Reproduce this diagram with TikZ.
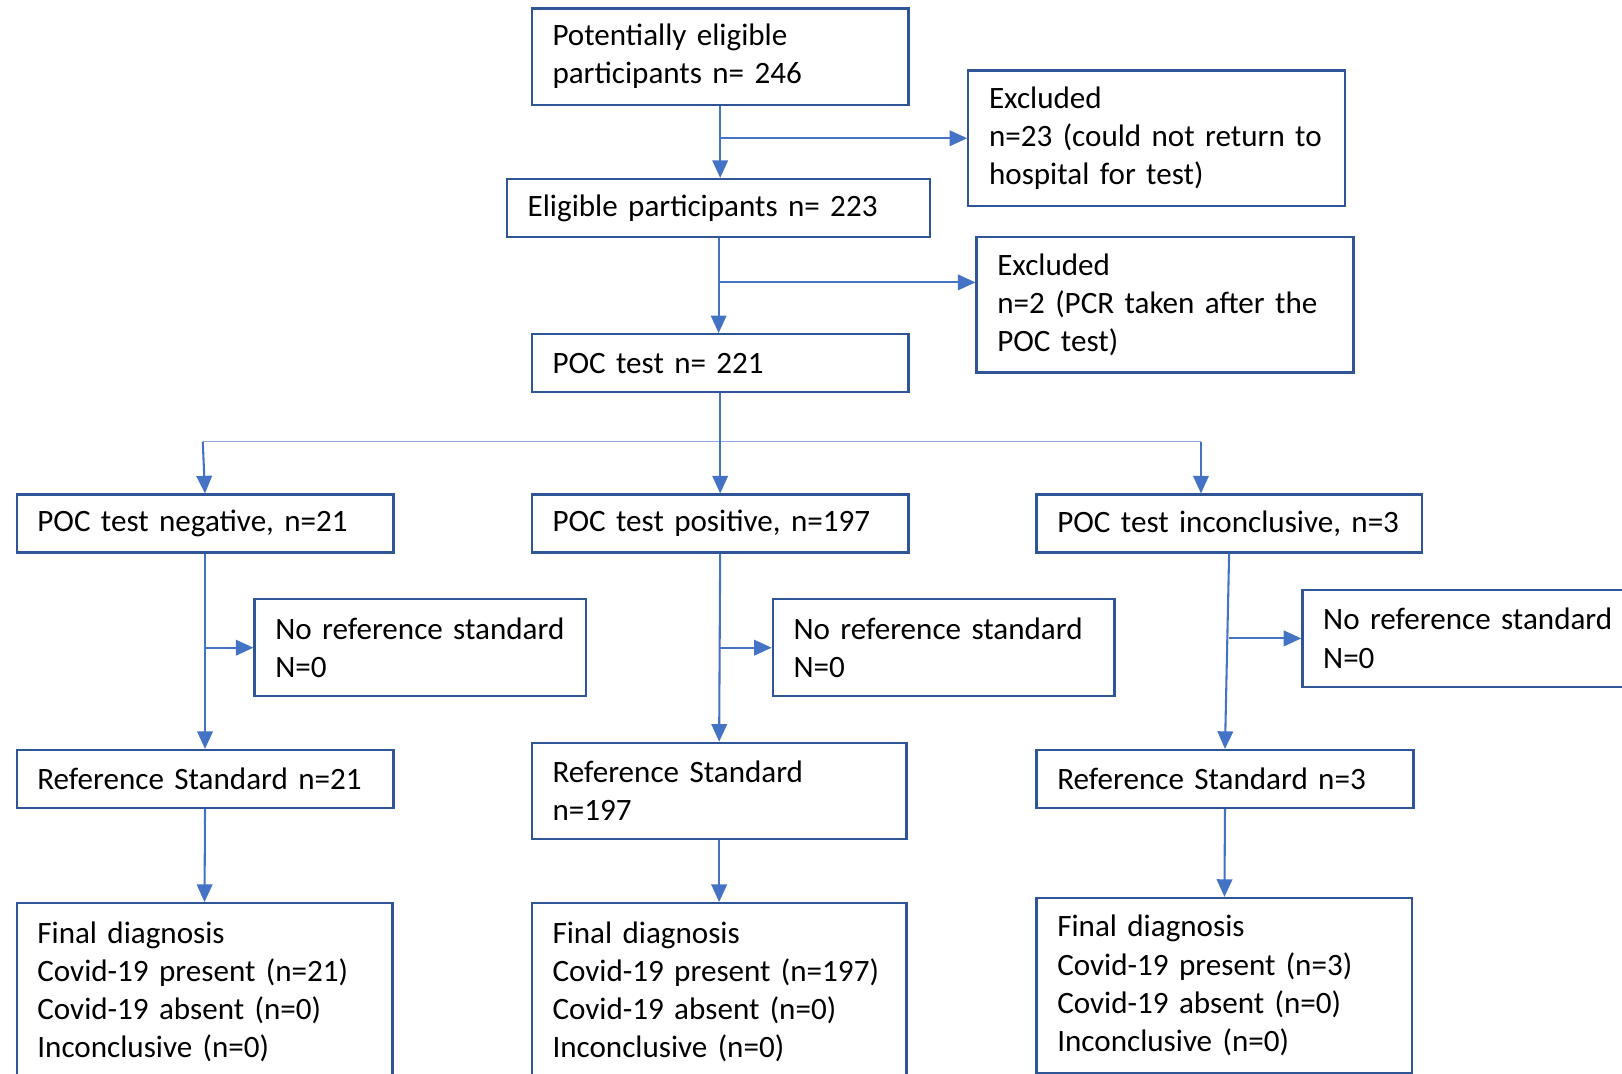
\documentclass[tikz,border=0pt]{standalone}
\usepackage{fontspec}
\setmainfont{Carlito}
\usetikzlibrary{arrows.meta}
\definecolor{boxblue}{HTML}{2F5597}
\definecolor{flowblue}{HTML}{4472C4}
\definecolor{splitblue}{HTML}{8FAADC}
\tikzset{>={Triangle[length=1.7mm,width=1.5mm]}}
\hyphenpenalty=10000
\exhyphenpenalty=10000

\begin{document}
\begin{tikzpicture}[x=0.01cm,y=-0.01cm,
  stage/.style 2 args={draw=boxblue, line width=0.22mm, anchor=north west, align=left,
    inner xsep=2mm, inner ysep=0.5mm, text width=#1, minimum height=#2,
    font=\fontsize{8.55}{10.5}\selectfont},
  flow/.style={->, draw=flowblue, line width=0.2mm},
  split/.style={draw=splitblue, line width=0.15mm}]

\useasboundingbox (0,0) rectangle (1568,1038);
\clip (0,0) rectangle (1568,1038);

% enrolment
\node[stage={32.4mm}{9.3mm}] (pot) at (513,7) {Potentially eligible\\participants n= 246};
\node[stage={32.4mm}{13.1mm}] (excl1) at (935,67) {Excluded\\n=23~(could~not~return~to\\hospital for test)};
\node[stage={36.9mm}{5.6mm}] (elig) at (489,172) {Eligible participants n= 223};
\node[stage={32.4mm}{13.1mm}] (excl2) at (943,228) {Excluded\\n=2~(PCR~taken~after~the\\POC test)};
\node[stage={32.4mm}{5.6mm}] (poc) at (513,322) {POC test n= 221};

% POC results
\node[stage={32.4mm}{5.6mm}] (neg) at (15,477) {POC~test~negative,~n=21};
\node[stage={32.4mm}{5.6mm}] (pos) at (513,477) {POC~test~positive,~n=197};
\node[stage={33.2mm}{5.6mm}] (inc) at (1001,477) {POC~test~inconclusive,~n=3};

\node[stage={28mm}{9.4mm}] (noref1) at (245,578) {No~reference~standard\\N=0};
\node[stage={29mm}{9.4mm}] (noref2) at (746,578) {No~reference~standard\\N=0};
\node[stage={29mm}{9.4mm}] (noref3) at (1258,569) {No~reference~standard\\N=0};

% reference standard
\node[stage={32.4mm}{5.6mm}] (ref1) at (15,724) {Reference~Standard~n=21};
\node[stage={32.2mm}{9.3mm}] (ref2) at (513,717) {Reference Standard\\n=197};
\node[stage={32.4mm}{5.6mm}] (ref3) at (1001,724) {Reference Standard n=3};

% final diagnosis
\node[stage={32.3mm}{17.1mm}] (fin1) at (15,872) {Final diagnosis\\Covid-19~present~(n=21)\\Covid-19 absent (n=0)\\Inconclusive (n=0)};
\node[stage={32.2mm}{17.1mm}] (fin2) at (513,872) {Final diagnosis\\Covid-19~present~(n=197)\\Covid-19 absent (n=0)\\Inconclusive (n=0)};
\node[stage={32.3mm}{16.9mm}] (fin3) at (1001,867) {Final diagnosis\\Covid-19~present~(n=3)\\Covid-19 absent (n=0)\\Inconclusive (n=0)};

\coordinate (j2) at (695,273);
\coordinate (bl) at (196,427);
\coordinate (br) at (1161,427);

\draw[flow] (pot.south) -- (pot.south |- elig.north);
\draw[flow] (pot.south |- excl1.west) -- (excl1.west);
\draw[flow] (elig.south) -- (elig.south |- poc.north);
\draw[flow] (j2) -- (excl2.west |- j2);

\draw[split] (bl) -- (br);
\draw[flow] (poc.south) -- (poc.south |- pos.north);
\draw[flow] (bl) -- (neg.north);
\draw[flow] (br) -- (br |- inc.north);

\draw[flow] (neg.south) -- (ref1.north);
\draw[flow] (neg.south |- noref1.west) -- (noref1.west);
\draw[flow] (pos.south) -- (ref2.north);
\draw[flow] (pos.south |- noref2.west) -- (noref2.west);
\draw[flow] (inc.south) -- (ref3.north);
\draw[flow] (inc.south |- noref3.west) -- (noref3.west); %to side box

\draw[flow] (ref1.south) -- (fin1.north);
\draw[flow] (ref2.south) -- (fin2.north);
\draw[flow] (ref3.south) -- (fin3.north);
\end{tikzpicture}
\end{document}
